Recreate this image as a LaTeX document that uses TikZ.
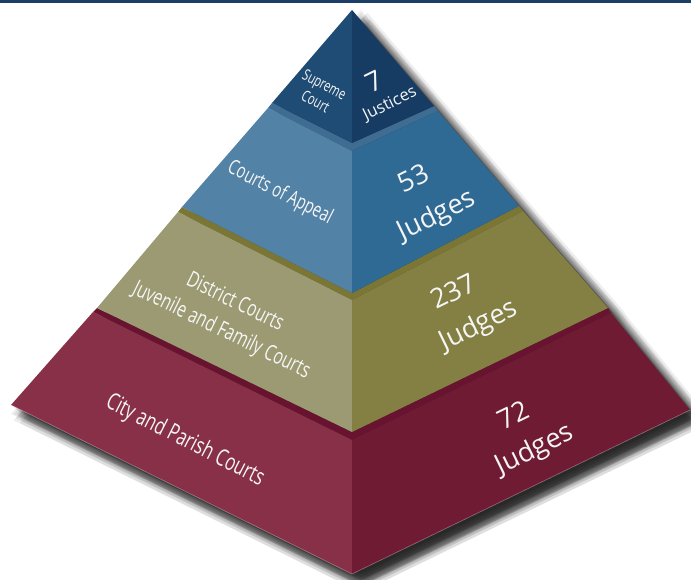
\documentclass[tikz,border=0pt]{standalone}
\usepackage{fontspec}
\setmainfont{Open Sans}
\newfontfamily\condfont[FakeStretch=0.72]{Open Sans}
\definecolor{navyL}{RGB}{31,76,117}
\definecolor{navyR}{RGB}{22,60,100}
\definecolor{blueL}{RGB}{82,130,166}
\definecolor{blueR}{RGB}{47,106,148}
\definecolor{blueLedge}{RGB}{62,108,146}
\definecolor{oliveL}{RGB}{155,154,114}
\definecolor{oliveR}{RGB}{132,128,67}
\definecolor{oliveLedge}{RGB}{123,118,52}
\definecolor{redL}{RGB}{137,48,73}
\definecolor{redR}{RGB}{111,27,51}
\definecolor{redLedge}{RGB}{104,19,47}
\definecolor{topbar}{RGB}{28,63,104}
\definecolor{lbl}{RGB}{245,245,245}
\def\pyrsil{(352,10)--(434,106)--(438,111)--(519,206)--(523,211)--(608,308)--(611,313)--(690,410)--(352,574)--(11,405)--(93,312)--(97,308)--(178,212)--(182,207)--(268,108)--(272,103)--cycle}
\tikzset{
  condlbl/.style={text=lbl, align=center, inner sep=0pt},
  numlbl/.style={text=lbl, inner sep=0pt},
}
\begin{document}
\begin{tikzpicture}[x=1pt,y=-1pt]
\useasboundingbox (0,0) rectangle (691,580);
\fill[white] (0,0) rectangle (691,580);
\fill[topbar] (0,0) rectangle (691,3);
% shadow (soft, offset to lower right)
\fill[black,opacity=0.065,shift={(9,9)}] \pyrsil;
\foreach \r in {3,6,9}{
  \foreach \t in {0,45,...,315}{
    \fill[black,opacity=0.065,shift={({9+\r*cos(\t)},{9+\r*sin(\t)})}] \pyrsil;
  }
}
% coordinates
\coordinate (A) at (352,10);
\coordinate (L1) at (272,103); \coordinate (C1) at (352,143); \coordinate (R1) at (434,106);
\coordinate (L2t) at (268,108); \coordinate (C2t) at (352,151); \coordinate (R2t) at (438,111);
\coordinate (L2b) at (182,207); \coordinate (C2b) at (352,293); \coordinate (R2b) at (519,206);
\coordinate (L3t) at (178,212); \coordinate (C3t) at (352,300); \coordinate (R3t) at (523,211);
\coordinate (L3b) at (97,308); \coordinate (C3b) at (352,432); \coordinate (R3b) at (608,308);
\coordinate (L4t) at (93,312); \coordinate (C4t) at (352,440); \coordinate (R4t) at (611,313);
\coordinate (L4b) at (11,405); \coordinate (C4b) at (352,574); \coordinate (R4b) at (690,410);
% tier 4 : city and parish
\fill[redLedge] (L3b) -- (C3b) -- (R3b) -- (R4t) -- (C4t) -- (L4t) -- cycle;
\fill[redL] (L4t) -- (C4t) -- (C4b) -- (L4b) -- cycle;
\fill[redR] (C4t) -- (R4t) -- (R4b) -- (C4b) -- cycle;
\draw[white,opacity=0.35,line width=0.6pt] (L4b) -- (C4b) -- (R4b);
% tier 3 : district
\fill[oliveLedge] (L2b) -- (C2b) -- (R2b) -- (R3t) -- (C3t) -- (L3t) -- cycle;
\fill[oliveL] (L3t) -- (C3t) -- (C3b) -- (L3b) -- cycle;
\fill[oliveR] (C3t) -- (R3t) -- (R3b) -- (C3b) -- cycle;
% tier 2 : appeal
\fill[blueLedge] (L1) -- (C1) -- (R1) -- (R2t) -- (C2t) -- (L2t) -- cycle;
\fill[blueL] (L2t) -- (C2t) -- (C2b) -- (L2b) -- cycle;
\fill[blueR] (C2t) -- (R2t) -- (R2b) -- (C2b) -- cycle;
% tier 1 : supreme
\fill[navyL] (A) -- (C1) -- (L1) -- cycle;
\fill[navyR] (A) -- (R1) -- (C1) -- cycle;
% labels
\node[condlbl, rotate=-28, font=\condfont\fontsize{15.5}{19}\selectfont] (sup) at (320,93) {Supreme\\Court};
\node[numlbl, rotate=26, font=\fontsize{27}{30}\selectfont] (n7) at (374,81) {7};
\node[numlbl, rotate=26, font=\fontsize{16.5}{18}\selectfont] (j7) at (390,104) {Justices};
\node[condlbl, rotate=-27, font=\condfont\fontsize{20.5}{22}\selectfont] (appeal) at (280,193) {Courts of Appeal};
\node[numlbl, rotate=26, font=\fontsize{27}{30}\selectfont] (n53) at (413,178) {53};
\node[numlbl, rotate=26, font=\fontsize{27}{30}\selectfont] (j53) at (437,216) {Judges};
\node[condlbl, rotate=-26, font=\condfont\fontsize{22}{31}\selectfont] (district) at (228,317) {District Courts\\Juvenile and Family Courts};
\node[numlbl, rotate=26, font=\fontsize{27}{30}\selectfont] (n237) at (453,291) {237};
\node[numlbl, rotate=26, font=\fontsize{27}{30}\selectfont] (j237) at (479,326) {Judges};
\node[condlbl, rotate=-27, font=\condfont\fontsize{23.5}{25}\selectfont] (city) at (185,441) {City and Parish Courts};
\node[numlbl, rotate=26, font=\fontsize{27}{30}\selectfont] (n72) at (513,415) {72};
\node[numlbl, rotate=26, font=\fontsize{27}{30}\selectfont] (j72) at (535,450) {Judges};
\end{tikzpicture}
\end{document}
